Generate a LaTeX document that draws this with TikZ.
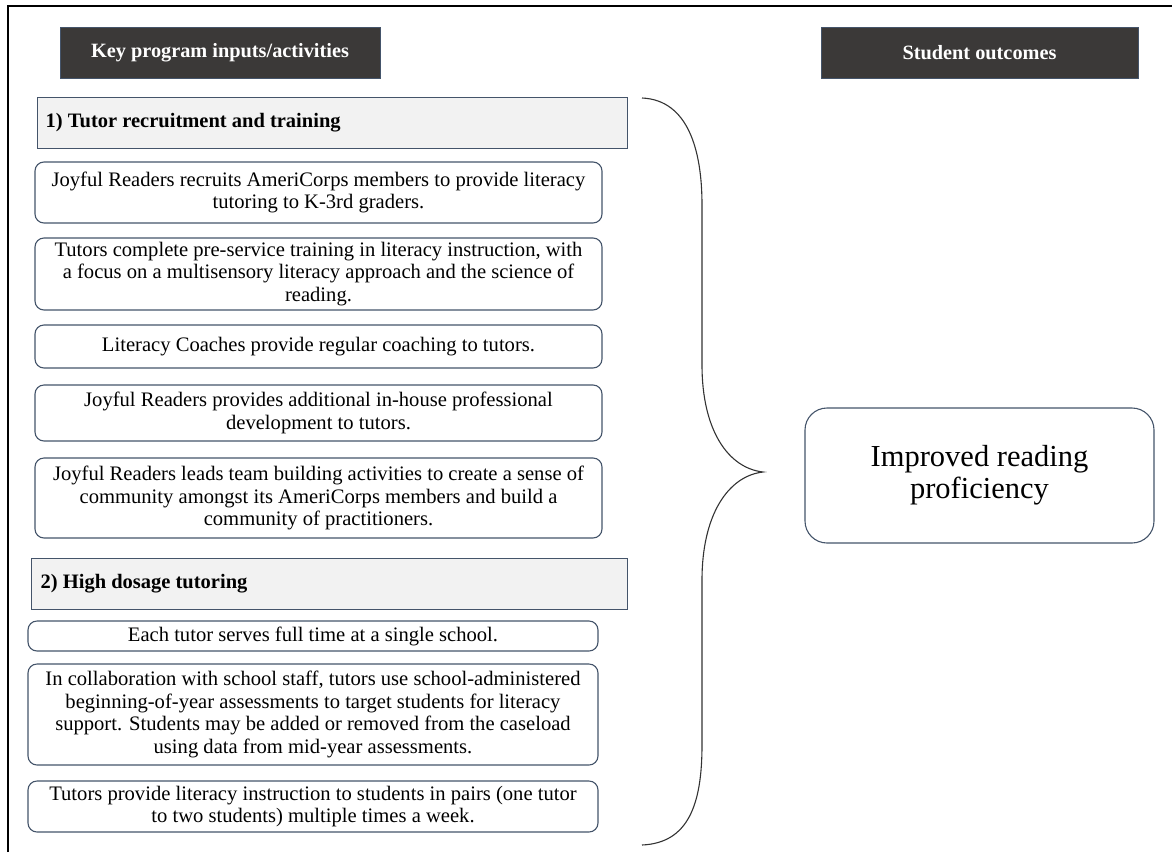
\documentclass[tikz,border=0pt]{standalone}
\usepackage{fontspec}
\setmainfont{Liberation Serif}
\definecolor{headfill}{HTML}{3B3938}
\definecolor{edge}{HTML}{44546A}
\definecolor{secfill}{HTML}{F2F2F2}
\begin{document}
\begin{tikzpicture}[x=1pt,y=-1pt,
  header/.style={fill=headfill, draw=edge, line width=0.6pt, text=white,
    font=\fontsize{20.3}{23}\selectfont\bfseries, inner sep=0pt},
  section/.style={fill=secfill, draw=edge, line width=1pt, inner sep=0pt},
  sectitle/.style={inner sep=0pt, font=\fontsize{20.5}{23}\selectfont\bfseries},
  actbox/.style={draw=edge, line width=1.1pt, rounded corners=9pt, inner sep=0pt,
    align=center, font=\fontsize{20.6}{22.5}\selectfont},
  outbox/.style={draw=edge, line width=1.1pt, rounded corners=22pt, inner sep=0pt,
    align=center, font=\fontsize{30.5}{32}\selectfont},
  brace/.style={draw=black!80, line width=1.1pt},
  frame/.style={draw=black, line width=1.6pt}]
\useasboundingbox (0,0) rectangle (1172,852);

% open frame around the figure
\coordinate (fb) at (8,852);
\coordinate (fc) at (8,6);
\coordinate (fr) at (1172,6);
\draw[frame] (fb) -- (fc) -- (fr);

% column headers
\node[header, minimum width=320, minimum height=51] (hin) at (220,52.5) {Key program inputs/activities};
\node[header, minimum width=317, minimum height=51] (hout) at (979.5,52.5) {Student outcomes};

% section 1
\node[section, minimum width=590, minimum height=51] (s1) at (332,122.5) {};
\node[sectitle, anchor=west] (s1t) at ([xshift=9pt]s1.west) {1) Tutor recruitment and training};

\node[actbox, minimum width=567, minimum height=61] (b1) at (318.5,192.5)
  {Joyful Readers recruits AmeriCorps members to provide literacy\\ tutoring to K-3rd graders.};
\node[actbox, minimum width=567, minimum height=72] (b2) at (318.5,274)
  {Tutors complete pre-service training in literacy instruction, with\\ a focus on a multisensory literacy approach and the science of\\ reading.};
\node[actbox, minimum width=567, minimum height=43] (b3) at (318.5,346.5)
  {Literacy Coaches provide regular coaching to tutors.};
\node[actbox, minimum width=567, minimum height=56] (b4) at (318.5,413)
  {Joyful Readers provides additional in-house professional\\ development to tutors.};
\node[actbox, minimum width=567, minimum height=80] (b5) at (318.5,498)
  {Joyful Readers leads team building activities to create a sense of\\ community amongst its AmeriCorps members and build a\\ community of practitioners.};

% section 2
\node[section, minimum width=596, minimum height=51] (s2) at (329,583.5) {};
\node[sectitle, anchor=west] (s2t) at ([xshift=10pt]s2.west) {2) High dosage tutoring};

\node[actbox, minimum width=570, minimum height=30] (b6) at (313,636)
  {Each tutor serves full time at a single school.};
\node[actbox, minimum width=570, minimum height=101] (b7) at (313,714.5)
  {In collaboration with school staff, tutors use school-administered\\ beginning-of-year assessments to target students for literacy\\ support. Students may be added or removed from the caseload\\ using data from mid-year assessments.};
\node[actbox, minimum width=570, minimum height=51] (b8) at (313,806.5)
  {Tutors provide literacy instruction to students in pairs (one tutor\\ to two students) multiple times a week.};

% outcome
\node[outbox, minimum width=349, minimum height=135] (out) at (979.5,475.5)
  {Improved reading\\ proficiency};

% curly brace gathering the activities
\coordinate (btop) at (642,98);
\coordinate (btip) at (763,472);
\coordinate (bbot) at (642,845);
\draw[brace] (btop) .. controls (688,100) and (702,150) .. (702,205)
  -- (702,365) .. controls (702,430) and (728,468) .. (btip)
  .. controls (728,476) and (702,515) .. (702,580)
  -- (702,745) .. controls (702,805) and (688,843) .. (bbot);
\end{tikzpicture}
\end{document}
